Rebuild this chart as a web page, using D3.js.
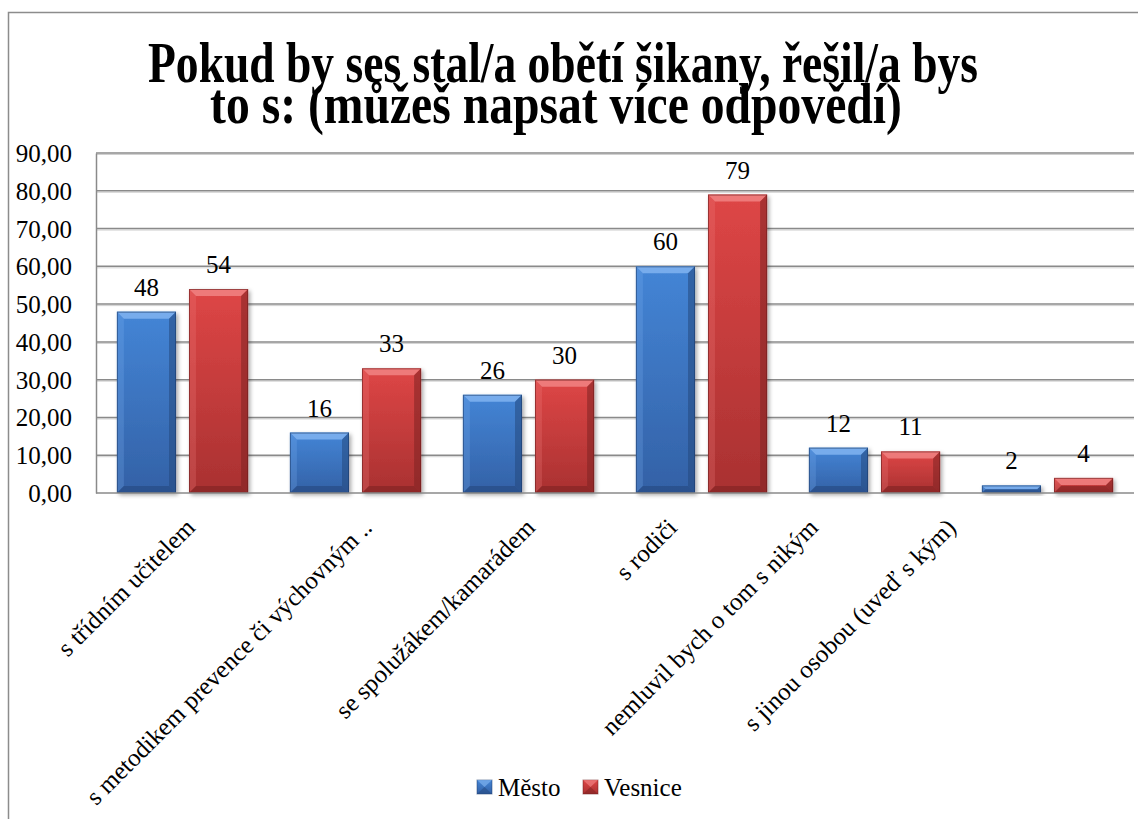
<!DOCTYPE html>
<html>
<head>
<meta charset="utf-8">
<script src="https://cdn.jsdelivr.net/npm/d3@7"></script>
<style>
    body { margin: 0; background: #fff; }
    svg { display: block; }
</style>
</head>
<body>
<svg id="chart" width="1138" height="819"></svg>
<script>
// Chart data
const categories = [
    "s třídním učitelem",
    "s metodikem prevence či výchovným ..",
    "se spolužákem/kamarádem",
    "s rodiči",
    "nemluvil bych o tom s nikým",
    "s jinou osobou (uveď s kým)"
];
const seriesNames = ["Město", "Vesnice"];
const mestoValues = [48, 16, 26, 60, 12, 2];
const vesniceValues = [54, 33, 30, 79, 11, 4];
const yTicks = [0, 10, 20, 30, 40, 50, 60, 70, 80, 90];
const titleLines = [
    "Pokud by ses stal/a obětí šikany, řešil/a bys",
    "to s: (můžeš napsat více odpovědí)"
];

// Layout
const width = 1138;
const height = 819;
const serif = "Liberation Serif";
const plot = { left: 96, right: 1134, top: 153, bottom: 493 };
// Excel puts the rotated labels a bit irregularly, these are the horizontal nudges
const labelShift = [14, 18, 8, -23, -55, -90];

const colors = {
    "Město": { top: "#4485d6", bottom: "#3361a6", light: "#7db0ee", dark: "#24487e", edge: "#1d3c6b" },
    "Vesnice": { top: "#de4646", bottom: "#a93131", light: "#f08080", dark: "#7e2222", edge: "#6b1d1d" }
};

const svg = d3.select("#chart");
const defs = svg.append("defs");

// gradients and shadow for the bevelled bars
seriesNames.forEach((name, i) => {
    const g = defs.append("linearGradient")
        .attr("id", "grad-" + i)
        .attr("x1", 0).attr("y1", 0).attr("x2", 0).attr("y2", 1);
    g.append("stop").attr("offset", "0%").attr("stop-color", colors[name].top);
    g.append("stop").attr("offset", "100%").attr("stop-color", colors[name].bottom);
});

const shadow = defs.append("filter")
    .attr("id", "shadow")
    .attr("x", "-20%").attr("y", "-20%").attr("width", "150%").attr("height", "150%");
shadow.append("feDropShadow")
    .attr("dx", 2).attr("dy", 2)
    .attr("stdDeviation", 2)
    .attr("flood-color", "#000")
    .attr("flood-opacity", 0.35);

// outer chart border (runs off the right and bottom edge)
svg.append("rect")
    .attr("x", 8.5).attr("y", 12.5)
    .attr("width", width + 20).attr("height", height + 20)
    .attr("fill", "none")
    .attr("stroke", "#8c8c8c")
    .attr("stroke-width", 1.5);

// Scales
const x0 = d3.scaleBand()
    .domain(categories)
    .range([plot.left, plot.right]);

const x1 = d3.scaleBand()
    .domain(seriesNames)
    .range([0, x0.bandwidth()])
    .paddingInner(0.18)
    .paddingOuter(0.29);

const y = d3.scaleLinear()
    .domain([0, 90])
    .range([plot.bottom, plot.top]);

const fmt = d => d3.format(".2f")(d).replace(".", ",");

// Gridlines
const grid = svg.append("g");
grid.selectAll("line.shade")
    .data(yTicks.filter(t => t > 0))
    .enter()
    .append("line")
    .attr("x1", plot.left).attr("x2", plot.right)
    .attr("y1", d => y(d) + 1.5).attr("y2", d => y(d) + 1.5)
    .attr("stroke", "#d0d0d0")
    .attr("stroke-width", 1);
grid.selectAll("line.main")
    .data(yTicks.filter(t => t > 0))
    .enter()
    .append("line")
    .attr("x1", plot.left).attr("x2", plot.right)
    .attr("y1", d => y(d)).attr("y2", d => y(d))
    .attr("stroke", "#8a8a8a")
    .attr("stroke-width", 1.5);

// Y axis
const yAxis = svg.append("g")
    .attr("transform", `translate(${plot.left},0)`)
    .call(d3.axisLeft(y).tickValues(yTicks).tickFormat(fmt).tickSize(0).tickPadding(24));
yAxis.select(".domain").attr("stroke", "#8a8a8a").attr("stroke-width", 1.5);
yAxis.selectAll("text")
    .style("font-family", serif)
    .style("font-size", "25px")
    .attr("fill", "#000")
    .attr("dy", "0.34em");

// Bars
const rows = categories.map((c, i) => ({
    category: c,
    values: [
        { series: seriesNames[0], s: 0, value: mestoValues[i] },
        { series: seriesNames[1], s: 1, value: vesniceValues[i] }
    ]
}));

const groups = svg.append("g")
    .selectAll("g")
    .data(rows)
    .enter()
    .append("g")
    .attr("transform", d => `translate(${x0(d.category)},0)`);

const bars = groups.selectAll("g.bar")
    .data(d => d.values)
    .enter()
    .append("g")
    .attr("class", "bar");

bars.each(function (d) {
    const g = d3.select(this);
    const bx = x1(d.series);
    const bw = x1.bandwidth();
    const by = y(d.value);
    const bh = y(0) - by;
    const b = Math.min(7, bh / 2, bw / 2);
    const c = colors[d.series];

    g.append("rect")
        .attr("x", bx).attr("y", by)
        .attr("width", bw).attr("height", bh)
        .attr("fill", `url(#grad-${d.s})`)
        .attr("filter", "url(#shadow)");

    // bevel faces
    const faces = [
        { pts: [[bx, by], [bx + bw, by], [bx + bw - b, by + b], [bx + b, by + b]], fill: c.light, op: 0.9 },
        { pts: [[bx, by], [bx + b, by + b], [bx + b, by + bh - b], [bx, by + bh]], fill: c.light, op: 0.25 },
        { pts: [[bx + bw, by], [bx + bw, by + bh], [bx + bw - b, by + bh - b], [bx + bw - b, by + b]], fill: c.dark, op: 0.55 },
        { pts: [[bx, by + bh], [bx + b, by + bh - b], [bx + bw - b, by + bh - b], [bx + bw, by + bh]], fill: c.dark, op: 0.6 }
    ];
    g.selectAll("polygon")
        .data(faces)
        .enter()
        .append("polygon")
        .attr("points", f => f.pts.map(p => p.join(",")).join(" "))
        .attr("fill", f => f.fill)
        .attr("opacity", f => f.op);

    g.append("rect")
        .attr("x", bx + 0.5).attr("y", by + 0.5)
        .attr("width", bw - 1).attr("height", Math.max(0, bh - 1))
        .attr("fill", "none")
        .attr("stroke", c.edge)
        .attr("stroke-opacity", 0.6)
        .attr("stroke-width", 1);
});

// Data labels
bars.append("text")
    .attr("x", d => x1(d.series) + x1.bandwidth() / 2)
    .attr("y", d => y(d.value) - 16)
    .attr("text-anchor", "middle")
    .style("font-family", serif)
    .style("font-size", "25px")
    .attr("fill", "#000")
    .text(d => Math.round(d.value));

// X axis line
svg.append("line")
    .attr("x1", plot.left).attr("x2", plot.right)
    .attr("y1", plot.bottom).attr("y2", plot.bottom)
    .attr("stroke", "#8a8a8a")
    .attr("stroke-width", 1.5);

// Rotated category labels
svg.append("g")
    .selectAll("text")
    .data(categories)
    .enter()
    .append("text")
    .attr("transform", (d, i) => `translate(${x0(d) + x0.bandwidth() / 2 + labelShift[i]},${plot.bottom + 36}) rotate(-45)`)
    .attr("text-anchor", "end")
    .style("font-family", serif)
    .style("font-size", "25px")
    .attr("fill", "#000")
    .text(d => d);

// Title (the picture is stretched upwards, so scale it)
const titleTargets = [
    { cx: 563, base: 82, w: 830 },
    { cx: 556, base: 123, w: 692 }
];
titleLines.forEach((line, i) => {
    const t = svg.append("text")
        .attr("text-anchor", "middle")
        .style("font-family", serif)
        .style("font-size", "46px")
        .style("font-weight", "bold")
        .attr("fill", "#000")
        .text(line);
    const len = t.node().getComputedTextLength();
    const sx = titleTargets[i].w / len;
    t.attr("transform", `translate(${titleTargets[i].cx},${titleTargets[i].base}) scale(${sx},1.25)`);
});

// Legend
const legend = svg.append("g")
    .selectAll("g")
    .data(seriesNames)
    .enter()
    .append("g")
    .attr("transform", (d, i) => `translate(${i === 0 ? 477 : 583},780)`);

legend.append("rect")
    .attr("width", 15).attr("height", 14)
    .attr("fill", (d, i) => `url(#grad-${i})`)
    .attr("stroke", d => colors[d].edge)
    .attr("stroke-opacity", 0.5);
legend.append("polygon")
    .attr("points", "0,0 15,0 7.5,7")
    .attr("fill", d => colors[d].light)
    .attr("opacity", 0.7);
legend.append("polygon")
    .attr("points", "0,14 15,14 7.5,7")
    .attr("fill", d => colors[d].dark)
    .attr("opacity", 0.5);
legend.append("text")
    .attr("x", 21)
    .attr("y", 16)
    .style("font-family", serif)
    .style("font-size", "25px")
    .attr("fill", "#000")
    .text(d => d);
</script>
</body>
</html>
